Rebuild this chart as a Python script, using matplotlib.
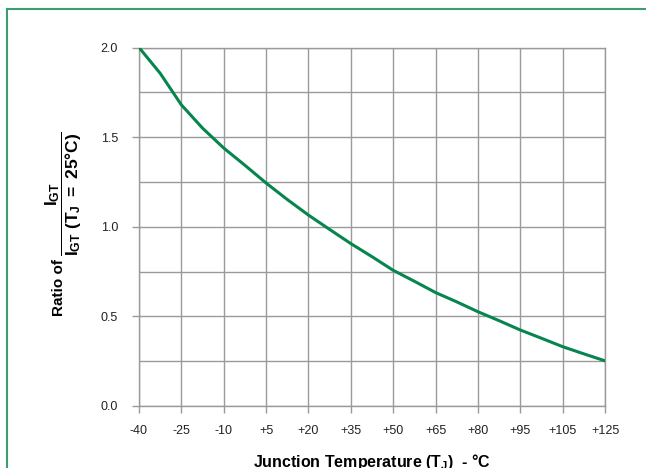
import matplotlib
matplotlib.use("Agg")
import matplotlib.pyplot as plt
from matplotlib.lines import Line2D

temps = ["-40", "-25", "-10", "+5", "+20", "+35", "+50", "+65", "+80", "+95", "+105", "+125"]
# curve at every tick and half way between ticks
curve_pos = [0, 0.5, 1, 1.5, 2, 2.5, 3, 3.5, 4, 4.5, 5, 5.5,
             6, 6.5, 7, 7.5, 8, 8.5, 9, 9.5, 10, 10.5, 11]
ratio = [2.0, 1.856, 1.68, 1.55, 1.439, 1.343, 1.244, 1.152, 1.065, 0.985, 0.906, 0.833,
         0.757, 0.696, 0.633, 0.581, 0.526, 0.476, 0.424, 0.378, 0.331, 0.291, 0.252]

plt.rcParams['font.family'] = ['Liberation Sans', 'DejaVu Sans']
plt.rcParams['mathtext.fontset'] = 'custom'
plt.rcParams['mathtext.rm'] = 'Liberation Sans:bold'
plt.rcParams['mathtext.it'] = 'Liberation Sans:bold'
plt.rcParams['mathtext.bf'] = 'Liberation Sans:bold'

grid_col = "#9a9a9a"
line_col = "#06854f"

fig = plt.figure(figsize=(6.46, 4.68), dpi=100)
ax = fig.add_axes([139/646, 1 - 406/468, 466/646, 358.5/468])

ax.plot(curve_pos, ratio, color=line_col, lw=2.2, zorder=3)

ax.set_xlim(0, len(temps) - 1)
ax.set_ylim(0, 2.0)
ax.set_xticks(range(len(temps)))
ax.set_xticklabels(temps)
ax.set_yticks([0, 0.5, 1.0, 1.5, 2.0])
ax.set_yticklabels(["0.0", "0.5", "1.0", "1.5", "2.0"])
ax.set_yticks([0.25, 0.75, 1.25, 1.75], minor=True)

ax.grid(True, which="both", color=grid_col, lw=1.0)
ax.tick_params(axis="both", which="major", color=grid_col, width=1.0, labelsize=9,
               labelcolor="#222222")
ax.tick_params(axis="y", which="major", length=5, pad=10)
ax.tick_params(axis="x", which="major", length=5, pad=8.5)
ax.tick_params(axis="y", which="minor", length=0)
for s in ax.spines.values():
    s.set_color(grid_col)
    s.set_linewidth(1.0)

ax.set_xlabel(r"Junction Temperature (T$_J$)  - °C", fontsize=11.5, fontweight="bold",
              labelpad=11)

# y label: "Ratio of" plus a fraction
fig.text(59/646, 1 - 287/468, "Ratio of", rotation=90, fontsize=11, fontweight="bold",
         ha="center", va="center")
fig.text(64/646, 1 - 194/468, r"$\dfrac{I_{GT}}{I_{GT}\ (T_J\ =\ 25°C)}$", rotation=90,
         fontsize=12.5, ha="center", va="center")

# green frame around the figure
frame_col = "#3d9c72"
fig.add_artist(Line2D([6.5/646, 6.5/646], [0, 1 - 8.5/468], color=frame_col, lw=1.5,
                      transform=fig.transFigure))
fig.add_artist(Line2D([6.5/646, 1], [1 - 8.5/468, 1 - 8.5/468], color=frame_col, lw=1.5,
                      transform=fig.transFigure))

fig.savefig("out.png", dpi=100)
